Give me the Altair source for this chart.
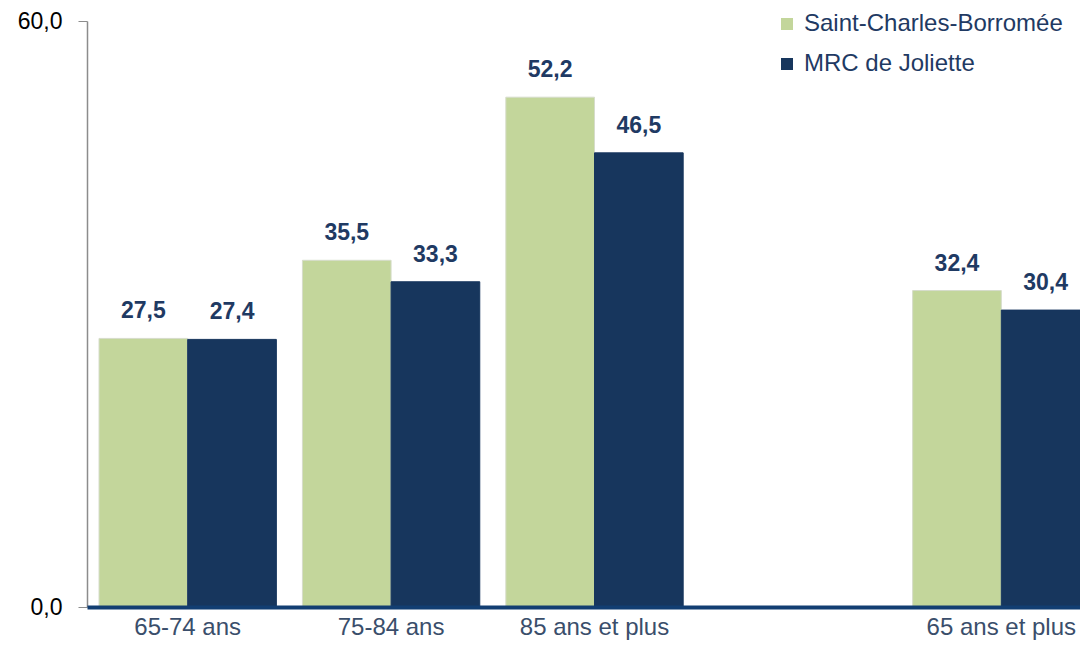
import altair as alt
import pandas as pd

categories = ["65-74 ans", "75-84 ans", "85 ans et plus", "65 ans et plus"]
x_domain = ["65-74 ans", "75-84 ans", "85 ans et plus", " ", "65 ans et plus"]
series = ["Saint-Charles-Borromée", "MRC de Joliette"]
scb_values = [27.5, 35.5, 52.2, 32.4]
mrc_values = [27.4, 33.3, 46.5, 30.4]
colors = ["#C3D69B", "#17365D"]
stroke_colors = ["#D6DCCB", "#17365D"]

rows = []
for c, a, b in zip(categories, scb_values, mrc_values):
    rows.append({"cat": c, "serie": series[0], "value": a})
    rows.append({"cat": c, "serie": series[1], "value": b})
df = pd.DataFrame(rows)

FONT = "Liberation Sans"

base = alt.Chart(df).transform_calculate(
    label="replace(format(datum.value, '.1f'), '.', ',')"
)

x = alt.X(
    "cat:N",
    scale=alt.Scale(domain=x_domain, range=[0, 1015], paddingInner=0.128, paddingOuter=0.059),
    axis=alt.Axis(
        title=None, labelAngle=0, ticks=False, domainColor="#123E72", domainWidth=4,
        labelColor="#3A4E6B", labelFontSize=24, labelPadding=8, labelFont=FONT, zindex=1,
    ),
)
y = alt.Y(
    "value:Q",
    scale=alt.Scale(domain=[0, 60], nice=False),
    axis=alt.Axis(
        title=None, values=[0, 60], grid=False,
        labelExpr="replace(format(datum.value, '.1f'), '.', ',')",
        domainColor="#8C8C8C", domainWidth=1.5, tickColor="#8C8C8C", tickSize=9,
        labelFontSize=23, labelColor="black", labelPadding=16, labelFont=FONT,
    ),
)
xoff = alt.XOffset("serie:N", sort=series, scale=alt.Scale(domain=series, paddingInner=0, paddingOuter=0))

bars = base.mark_bar(strokeWidth=1).encode(
    x=x, xOffset=xoff, y=y,
    color=alt.Color(
        "serie:N",
        scale=alt.Scale(domain=series, range=colors),
        legend=alt.Legend(
            title=None, orient="none", legendX=688, legendY=-9, direction="vertical",
            symbolType="square", symbolSize=144, symbolStrokeWidth=0,
            labelFontSize=24, labelColor="#1F3A63", labelFont=FONT, labelLimit=0,
            rowPadding=16, labelOffset=5, padding=0,
        ),
    ),
    stroke=alt.Stroke("serie:N", scale=alt.Scale(domain=series, range=stroke_colors), legend=None),
)
text = base.mark_text(
    baseline="bottom", dy=-15, fontSize=23, fontWeight="bold", color="#1F3A63", font=FONT
).encode(x=x, xOffset=xoff, y=y, text="label:N")

chart = alt.layer(bars, text).properties(
    width=993, height=586,
    autosize=alt.AutoSizeParams(type="none"),
    padding={"left": 79, "top": 13, "right": 0, "bottom": 33},
).configure_view(stroke=None)

chart.save("out.html", embed_options={"renderer": "svg", "actions": False})
